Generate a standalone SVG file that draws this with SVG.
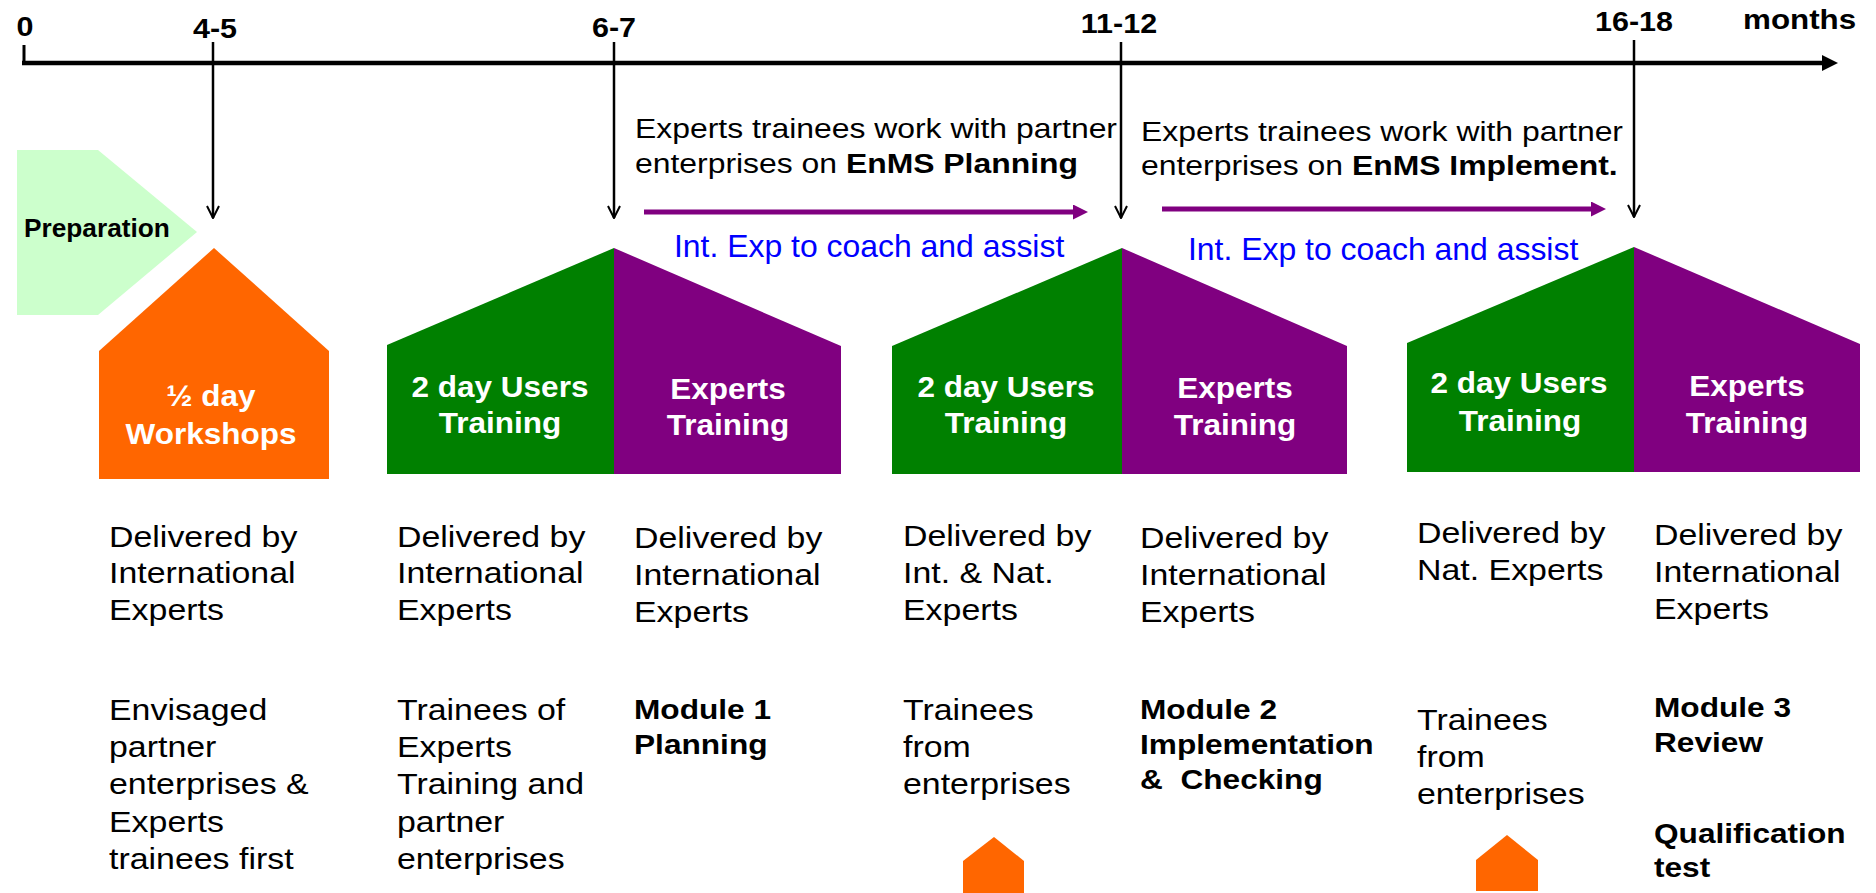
<svg xmlns="http://www.w3.org/2000/svg" width="1876" height="893" viewBox="0 0 1876 893">
<style>
text{font-family:"Liberation Sans",Arial,Helvetica,sans-serif}
.ax{font-size:27px;font-weight:bold;fill:#000;text-anchor:middle}
.mo{font-size:28px;font-weight:bold;fill:#000}
.hw{font-size:30px;font-weight:bold;fill:#fff;text-anchor:middle}
.tp{font-size:27.5px;fill:#000}
.bl{font-size:31px;fill:#0000ff}
.bt{font-size:30px;fill:#000}
.bb{font-size:28px;font-weight:bold;fill:#000}
.k{font-weight:bold}
.tick{stroke:#000;stroke-width:2.5;fill:none}
.pa{stroke:#800080;stroke-width:5;fill:none}
.g{fill:#008000}
.p{fill:#800080}
.o{fill:#ff6600}
</style>
<defs>
<marker id="vee" markerUnits="userSpaceOnUse" viewBox="0 0 14 14" refX="13" refY="7" markerWidth="14" markerHeight="14" orient="auto">
<path d="M1,1 L13,7 L1,13" fill="none" stroke="#000" stroke-width="2"/>
</marker>
<marker id="axh" markerUnits="userSpaceOnUse" viewBox="0 0 16 16" refX="4" refY="8" markerWidth="16" markerHeight="16" orient="auto">
<path d="M0,0 L16,8 L0,16 z" fill="#000"/>
</marker>
<marker id="pah" markerUnits="userSpaceOnUse" viewBox="0 0 15 15" refX="3" refY="7.5" markerWidth="15" markerHeight="15" orient="auto">
<path d="M0,0 L15,7.5 L0,15 z" fill="#800080"/>
</marker>
</defs>

<g id="timeline">
<path d="M24,45 V63" stroke="#000" stroke-width="3" fill="none"/>
<path d="M22,63 H1826" stroke="#000" stroke-width="4.5" fill="none" marker-end="url(#axh)"/>
<text class="ax" transform="translate(25,36) scale(1.13,1)">0</text>
<text class="ax" transform="translate(215,38) scale(1.13,1)">4-5</text>
<text class="ax" transform="translate(614,37) scale(1.13,1)">6-7</text>
<text class="ax" transform="translate(1119,33) scale(1.13,1)">11-12</text>
<text class="ax" transform="translate(1634,31) scale(1.13,1)">16-18</text>
<text class="mo" transform="translate(1743,29) scale(1.12,1)">months</text>
</g>

<g id="connectors">
<line class="tick" x1="213" y1="42" x2="213" y2="218" marker-end="url(#vee)"/>
<line class="tick" x1="614" y1="42" x2="614" y2="218" marker-end="url(#vee)"/>
<line class="tick" x1="1121" y1="42" x2="1121" y2="218" marker-end="url(#vee)"/>
<line class="tick" x1="1634" y1="40" x2="1634" y2="217" marker-end="url(#vee)"/>
<line class="pa" x1="644" y1="212" x2="1076" y2="212" marker-end="url(#pah)"/>
<line class="pa" x1="1162" y1="209" x2="1594" y2="209" marker-end="url(#pah)"/>
</g>

<g id="preparation">
<polygon points="17,150 98,150 197,232 98,315 17,315" fill="#ccffcc"/>
<text class="k" font-size="25" transform="translate(24,237) scale(1.05,1)">Preparation</text>
</g>

<g id="workshops">
<polygon class="o" points="99,351 214,248 329,351 329,479 99,479"/>
<text class="hw" transform="translate(211,406) scale(1.05,1)">½ day</text>
<text class="hw" transform="translate(211,444) scale(1.05,1)">Workshops</text>
</g>

<g id="users-training-1">
<polygon class="g" points="387,345 614,248 614,474 387,474"/>
<text class="hw" transform="translate(500,397) scale(1.05,1)">2 day Users</text>
<text class="hw" transform="translate(500,433) scale(1.05,1)">Training</text>
</g>
<g id="experts-training-1">
<polygon class="p" points="614,248 841,346 841,474 614,474"/>
<text class="hw" transform="translate(728,399) scale(1.05,1)">Experts</text>
<text class="hw" transform="translate(728,435) scale(1.05,1)">Training</text>
</g>

<g id="users-training-2">
<polygon class="g" points="892,346 1122,248 1122,474 892,474"/>
<text class="hw" transform="translate(1006,397) scale(1.05,1)">2 day Users</text>
<text class="hw" transform="translate(1006,433) scale(1.05,1)">Training</text>
</g>
<g id="experts-training-2">
<polygon class="p" points="1122,248 1347,346 1347,474 1122,474"/>
<text class="hw" transform="translate(1235,398) scale(1.05,1)">Experts</text>
<text class="hw" transform="translate(1235,435) scale(1.05,1)">Training</text>
</g>

<g id="users-training-3">
<polygon class="g" points="1407,343 1634,247 1634,472 1407,472"/>
<text class="hw" transform="translate(1519,393) scale(1.05,1)">2 day Users</text>
<text class="hw" transform="translate(1520,431) scale(1.05,1)">Training</text>
</g>
<g id="experts-training-3">
<polygon class="p" points="1634,247 1860,344 1860,472 1634,472"/>
<text class="hw" transform="translate(1747,396) scale(1.05,1)">Experts</text>
<text class="hw" transform="translate(1747,433) scale(1.05,1)">Training</text>
</g>

<g id="work-planning">
<text class="tp" transform="translate(635,138) scale(1.16,1)"><tspan x="0" y="0">Experts trainees work with partner</tspan><tspan x="0" y="35">enterprises on <tspan class="k">EnMS Planning</tspan></tspan></text>
<text class="bl" transform="translate(674,257) scale(1.03,1)">Int. Exp to coach and assist</text>
</g>
<g id="work-implement">
<text class="tp" transform="translate(1141,141) scale(1.16,1)"><tspan x="0" y="0">Experts trainees work with partner</tspan><tspan x="0" y="34">enterprises on <tspan class="k">EnMS Implement.</tspan></tspan></text>
<text class="bl" transform="translate(1188,260) scale(1.03,1)">Int. Exp to coach and assist</text>
</g>

<g id="col1">
<text class="bt" transform="translate(109,547) scale(1.13,1)"><tspan x="0" y="0">Delivered by</tspan><tspan x="0" y="36.5">International</tspan><tspan x="0" y="73">Experts</tspan></text>
<text class="bt" transform="translate(109,720) scale(1.13,1)"><tspan x="0" y="0">Envisaged</tspan><tspan x="0" y="37.25">partner</tspan><tspan x="0" y="74.5">enterprises &amp;</tspan><tspan x="0" y="111.75">Experts</tspan><tspan x="0" y="149">trainees first</tspan></text>
</g>
<g id="col2">
<text class="bt" transform="translate(397,547) scale(1.13,1)"><tspan x="0" y="0">Delivered by</tspan><tspan x="0" y="36.5">International</tspan><tspan x="0" y="73">Experts</tspan></text>
<text class="bt" transform="translate(397,720) scale(1.13,1)"><tspan x="0" y="0">Trainees of</tspan><tspan x="0" y="37.25">Experts</tspan><tspan x="0" y="74.5">Training and</tspan><tspan x="0" y="111.75">partner</tspan><tspan x="0" y="149">enterprises</tspan></text>
</g>
<g id="col3">
<text class="bt" transform="translate(634,548) scale(1.13,1)"><tspan x="0" y="0">Delivered by</tspan><tspan x="0" y="37">International</tspan><tspan x="0" y="74">Experts</tspan></text>
<text class="bb" transform="translate(634,719) scale(1.13,1)"><tspan x="0" y="0">Module 1</tspan><tspan x="0" y="35">Planning</tspan></text>
</g>
<g id="col4">
<text class="bt" transform="translate(903,546) scale(1.13,1)"><tspan x="0" y="0">Delivered by</tspan><tspan x="0" y="37">Int. &amp; Nat.</tspan><tspan x="0" y="74">Experts</tspan></text>
<text class="bt" transform="translate(903,720) scale(1.13,1)"><tspan x="0" y="0">Trainees</tspan><tspan x="0" y="37">from</tspan><tspan x="0" y="74">enterprises</tspan></text>
<polygon class="o" points="963,861 994,837 1024,861 1024,893 963,893"/>
</g>
<g id="col5">
<text class="bt" transform="translate(1140,548) scale(1.13,1)"><tspan x="0" y="0">Delivered by</tspan><tspan x="0" y="37">International</tspan><tspan x="0" y="74">Experts</tspan></text>
<text class="bb" xml:space="preserve" transform="translate(1140,719) scale(1.13,1)"><tspan x="0" y="0">Module 2</tspan><tspan x="0" y="35">Implementation</tspan><tspan x="0" y="70">&amp;  Checking</tspan></text>
</g>
<g id="col6">
<text class="bt" transform="translate(1417,543) scale(1.13,1)"><tspan x="0" y="0">Delivered by</tspan><tspan x="0" y="37">Nat. Experts</tspan></text>
<text class="bt" transform="translate(1417,730) scale(1.13,1)"><tspan x="0" y="0">Trainees</tspan><tspan x="0" y="37">from</tspan><tspan x="0" y="74">enterprises</tspan></text>
<polygon class="o" points="1476,860 1507,835 1538,860 1538,891 1476,891"/>
</g>
<g id="col7">
<text class="bt" transform="translate(1654,545) scale(1.13,1)"><tspan x="0" y="0">Delivered by</tspan><tspan x="0" y="37">International</tspan><tspan x="0" y="74">Experts</tspan></text>
<text class="bb" transform="translate(1654,717) scale(1.13,1)"><tspan x="0" y="0">Module 3</tspan><tspan x="0" y="35">Review</tspan></text>
<text class="bb" transform="translate(1654,843) scale(1.13,1)"><tspan x="0" y="0">Qualification</tspan><tspan x="0" y="34">test</tspan></text>
</g>
</svg>
